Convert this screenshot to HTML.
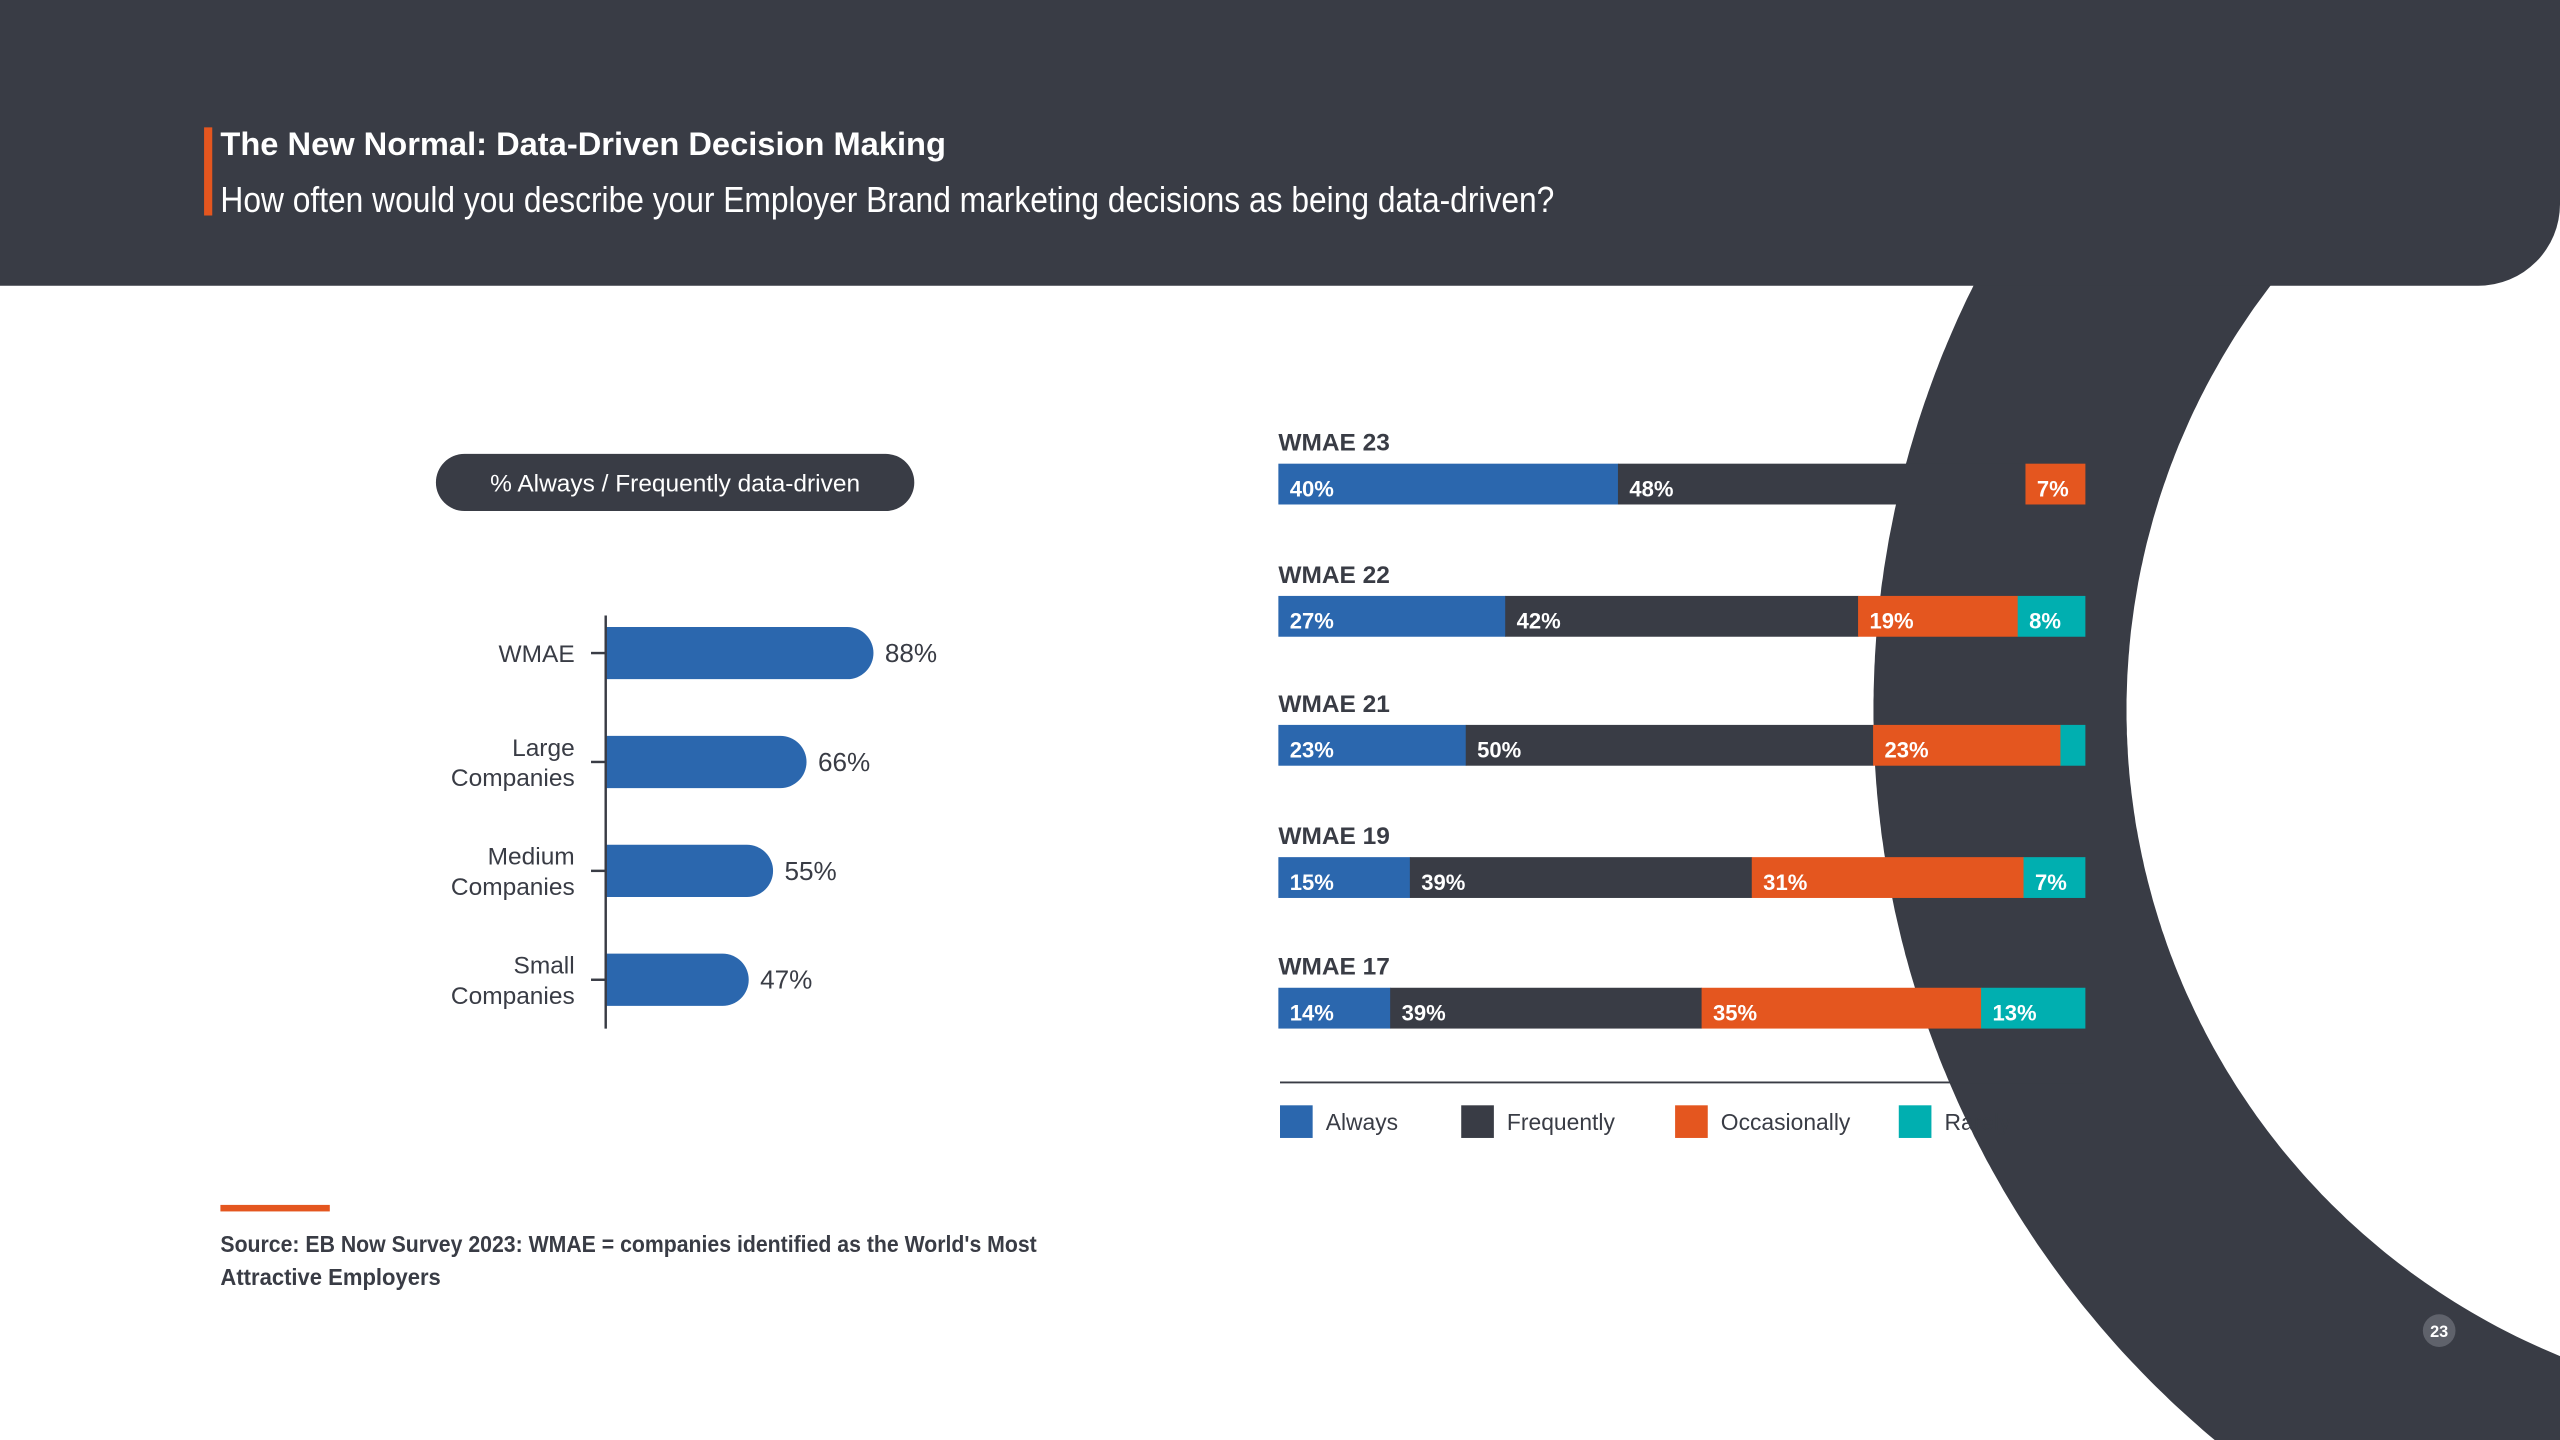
<!DOCTYPE html>
<html><head><meta charset="utf-8"><style>
html,body{margin:0;padding:0;background:#fff;overflow:hidden;width:2560px;height:1440px;}
svg{display:block;overflow:hidden;}
text{font-family:"Liberation Sans Narrow","Liberation Sans",sans-serif;}
</style></head><body>
<svg id="s" width="2560" height="1440" viewBox="0 0 1568 882" xmlns="http://www.w3.org/2000/svg">
<rect x="0" y="0" width="1568" height="882" fill="#fff"/>
<path id="ring" d="" fill="#393c45"/>
<path d="M0 0 H1568 V125 A50 50 0 0 1 1518 175 H0 Z" fill="#393c45"/>
<rect x="125" y="78" width="5" height="54" fill="#e4561f"/>
<text x="135" y="95" font-size="20" font-weight="bold" fill="#fff" font-family="Liberation Sans">The New Normal: Data-Driven Decision Making</text>
<text x="135" y="130" font-size="22" fill="#fff" textLength="817" lengthAdjust="spacingAndGlyphs">How often would you describe your Employer Brand marketing decisions as being data-driven?</text>

<rect x="267" y="278" width="293" height="35" rx="17.5" fill="#393c45"/>
<text x="413.5" y="301" font-size="15" fill="#fff" text-anchor="middle" font-family="Liberation Sans">% Always / Frequently data-driven</text>
<g id="left"></g>
<line x1="371" y1="377" x2="371" y2="630" stroke="#393c45" stroke-width="1.5"/>

<g id="right"></g>
<line x1="784" y1="663" x2="1277" y2="663" stroke="#393c45" stroke-width="1.2"/>
<g id="legend"></g>

<rect x="135" y="738" width="67" height="4" fill="#e4561f"/>
<text x="135" y="767" font-size="14" font-weight="bold" fill="#393c45" textLength="500" lengthAdjust="spacingAndGlyphs">Source: EB Now Survey 2023: WMAE = companies identified as the World's Most</text>
<text x="135" y="787" font-size="14" font-weight="bold" fill="#393c45" textLength="135" lengthAdjust="spacingAndGlyphs">Attractive Employers</text>
<circle cx="1494" cy="815" r="10" fill="#5f626b"/>
<text x="1494" y="819" font-size="10" font-weight="bold" fill="#fff" text-anchor="middle">23</text>
</svg>
<script>
var leftCats = [["WMAE"],["Large","Companies"],["Medium","Companies"],["Small","Companies"]];
var leftVals = [88, 66, 55, 47];
var rowLabels = ["WMAE 23","WMAE 22","WMAE 21","WMAE 19","WMAE 17"];
var always = [40, 27, 23, 15, 14];
var frequently = [48, 42, 50, 39, 39];
var occasionally = [7, 19, 23, 31, 35];
var rarely = [0, 8, 3, 7, 13];
var rarelyShown = [true, true, false, true, true];
var seriesNames = ["Always","Frequently","Occasionally","Rarely"];
var seriesColors = ["#2b67ae","#393c45","#e4561f","#00afb0"];

var NS = "http://www.w3.org/2000/svg";
function mk(tag, attrs, parent){var e=document.createElementNS(NS,tag);for(var k in attrs)e.setAttribute(k,attrs[k]);parent.appendChild(e);return e;}

// decorative ring, clipped to the slide
(function(){
  var cx=1730, cy=435, Ro=582.5, Ri=427.5, W=1568, H=882;
  var pts=[], y;
  for(y=0;y<=H;y+=3){pts.push([cx-Math.sqrt(Ro*Ro-(y-cy)*(y-cy)), y]);}
  pts.push([cx-Math.sqrt(Ro*Ro-(H-cy)*(H-cy)), H]);
  pts.push([W,H]);
  var yb=cy+Math.sqrt(Ri*Ri-(cx-W)*(cx-W)), yt=cy-Math.sqrt(Ri*Ri-(cx-W)*(cx-W));
  pts.push([W,yb]);
  for(y=yb;y>=yt;y-=3){pts.push([Math.min(W,cx-Math.sqrt(Math.max(0,Ri*Ri-(y-cy)*(y-cy)))), y]);}
  pts.push([W,yt]);
  pts.push([W,0]);
  document.getElementById('ring').setAttribute('d','M'+pts.map(function(p){return p[0].toFixed(1)+' '+p[1].toFixed(1);}).join(' L')+' Z');
})();

var L = document.getElementById('left');
var lx0 = 371, lpx = 164/88;
function lx(v){return lx0 + v*lpx;}
function ly(i){return 400 + i*66.7;}
leftVals.forEach(function(v,i){
  var y=ly(i), h=32, x1=lx(v), r=16;
  var p=mk('path',{d:'M'+lx0+' '+(y-h/2)+' H'+(x1-r)+' A'+r+' '+r+' 0 0 1 '+(x1-r)+' '+(y+h/2)+' H'+lx0+' Z',fill:'#2b67ae'},L);
  
  
  var tk=mk('line',{x1:362,y1:y,x2:371,y2:y,stroke:'#393c45','stroke-width':1.5},L);
  
  
  var t=mk('text',{x:x1+7,y:y+5.5,'font-size':16,fill:'#393c45','font-family':'Liberation Sans'},L);
  t.textContent=v+'%';
  
  
  var lines=leftCats[i];
  lines.forEach(function(s,j){
    var yy = y + 5.5 + (j - (lines.length-1)/2)*18.5;
    var c=mk('text',{x:352,y:yy,'font-size':15,fill:'#393c45','text-anchor':'end','font-family':'Liberation Sans'},L);
    c.textContent=s;
    
    
  });
});

var R = document.getElementById('right');
var rx0=783, rw=494, bh=25;
var rowY=[284,365,444,525,605];
rowLabels.forEach(function(lab,i){
  var vals=[always[i],frequently[i],occasionally[i],rarely[i]];
  var sum=vals.reduce(function(a,b){return a+b;},0);
  var t=mk('text',{x:783,y:rowY[i]-8,'font-size':15,'font-weight':'bold',fill:'#393c45'},R);
  t.textContent=lab;
  
  
  var acc=0;
  vals.forEach(function(v,k){
    if(v<=0)return;
    var x=rx0+acc/sum*rw, w=v/sum*rw;
    var r=mk('rect',{x:x,y:rowY[i],width:w+0.3,height:bh,fill:seriesColors[k]},R);
    
    
    if(k<3||rarelyShown[i]){
      var tt=mk('text',{x:x+7,y:rowY[i]+20,'font-size':13.5,'font-weight':'bold',fill:'#fff'},R);
      tt.textContent=v+'%';
      
      
    }
    acc+=v;
  });
});

var G=document.getElementById('legend');
var legX=[784,895,1026,1163];
seriesNames.forEach(function(n,k){
  var s=mk('rect',{x:legX[k],y:677,width:20,height:20,fill:seriesColors[k]},G);
  
  
  var t=mk('text',{x:legX[k]+28,y:692,'font-size':14,fill:'#393c45','font-family':'Liberation Sans'},G);
  t.textContent=n;
  
  
});
</script>
</body></html>
